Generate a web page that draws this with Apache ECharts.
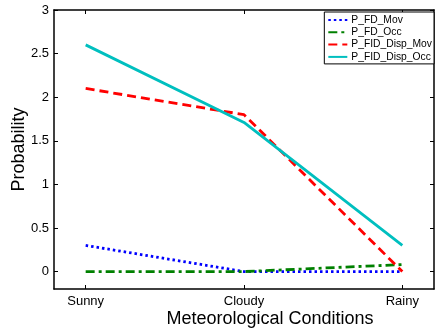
<!DOCTYPE html>
<html>
<head>
<meta charset="utf-8">
<script src="https://cdn.jsdelivr.net/npm/echarts@6/dist/echarts.min.js"></script>
<style>
html,body{margin:0;padding:0;background:#fff;}
#chart{width:439px;height:333px;}
</style>
</head>
<body>
<div id="chart"></div>
<script>
var categories = ['Sunny', 'Cloudy', 'Rainy'];
var seriesNames = ['P_FD_Mov', 'P_FD_Occ', 'P_FID_Disp_Mov', 'P_FID_Disp_Occ'];
var pFdMov = [0.3, 0.0, 0.0];
var pFdOcc = [0.0, 0.0, 0.08];
var pFidDispMov = [2.1, 1.8, 0.0];
var pFidDispOcc = [2.6, 1.71, 0.3];
var yTicks = [0, 0.5, 1, 1.5, 2, 2.5, 3];
var xTicks = [1, 2, 3];

function pts(arr) {
  return arr.map(function (v, i) { return [i + 1, v]; });
}

var FONT = 'Liberation Sans, Arial, Helvetica, sans-serif';
var chart = echarts.init(document.getElementById('chart'), null, {renderer: 'canvas'});

var styles = [
  {color: '#0000ff', type: [2.5, 3]},
  {color: '#008000', type: [9, 4, 3, 4]},
  {color: '#ff0000', type: [9, 5]},
  {color: '#00bfbf', type: 'solid'}
];
var datas = [pFdMov, pFdOcc, pFidDispMov, pFidDispOcc];

var series = datas.map(function (d, k) {
  return {
    name: seriesNames[k],
    type: 'line',
    xAxisIndex: 0,
    yAxisIndex: 0,
    data: pts(d),
    symbol: 'none',
    showSymbol: false,
    animation: false,
    itemStyle: {color: styles[k].color},
    lineStyle: {color: styles[k].color, width: 2.8, type: styles[k].type, cap: 'butt'},
    z: 2 + k
  };
});

var option = {
  animation: false,
  backgroundColor: '#fff',
  grid: {left: 54, right: 5, top: 10, bottom: 44, show: false, containLabel: false, outerBoundsMode: 'none'},
  legend: {
    data: seriesNames,
    orient: 'vertical',
    right: 5,
    top: 12,
    padding: [3, 2, 2, 3],
    itemGap: 2.3,
    itemWidth: 19,
    itemHeight: 10,
    backgroundColor: '#fff',
    borderColor: '#000',
    borderWidth: 1,
    borderRadius: 0,
    itemStyle: {color: 'transparent', borderColor: 'transparent', borderWidth: 0, opacity: 0},
    textStyle: {fontFamily: FONT, fontSize: 10.3, color: '#000', lineHeight: 10, padding: [0, 0, 0, -1]},
    z: 10
  },
  xAxis: [{
    type: 'value',
    min: 0.8,
    max: 3.2,
    position: 'bottom',
    name: 'Meteorological Conditions',
    nameLocation: 'middle',
    nameGap: 21,
    nameMoveOverlap: false,
    nameTextStyle: {fontFamily: FONT, fontSize: 18, color: '#000', padding: [0, 0, 0, 52]},
    axisLine: {show: true, onZero: false, lineStyle: {color: '#000', width: 1.5}},
    axisTick: {show: true, inside: true, length: 4, customValues: xTicks, lineStyle: {color: '#000', width: 1}},
    axisLabel: {
      show: true, customValues: xTicks, margin: 6,
      fontFamily: FONT, fontSize: 13, color: '#000',
      formatter: function (v) { return categories[Math.round(v) - 1] || ''; }
    },
    splitLine: {show: false}
  }, {
    type: 'value',
    min: 0.8,
    max: 3.2,
    position: 'top',
    axisLine: {show: true, onZero: false, lineStyle: {color: '#000', width: 1.5}},
    axisTick: {show: true, inside: true, length: 4, customValues: xTicks, lineStyle: {color: '#000', width: 1}},
    axisLabel: {show: false},
    splitLine: {show: false}
  }],
  yAxis: [{
    type: 'value',
    min: -0.2,
    max: 3,
    position: 'left',
    name: 'Probability',
    nameLocation: 'middle',
    nameGap: 26,
    nameMoveOverlap: false,
    nameTextStyle: {fontFamily: FONT, fontSize: 18, color: '#000'},
    axisLine: {show: true, onZero: false, lineStyle: {color: '#000', width: 1.5}},
    axisTick: {show: true, inside: true, length: 4, customValues: yTicks, lineStyle: {color: '#000', width: 1}},
    axisLabel: {show: true, customValues: yTicks, margin: 5, fontFamily: FONT, fontSize: 13, color: '#000'},
    splitLine: {show: false}
  }, {
    type: 'value',
    min: -0.2,
    max: 3,
    position: 'right',
    axisLine: {show: true, onZero: false, lineStyle: {color: '#000', width: 1.5}},
    axisTick: {show: true, inside: true, length: 4, customValues: yTicks, lineStyle: {color: '#000', width: 1}},
    axisLabel: {show: false},
    splitLine: {show: false}
  }],
  series: series
};

chart.setOption(option);
</script>
</body>
</html>
